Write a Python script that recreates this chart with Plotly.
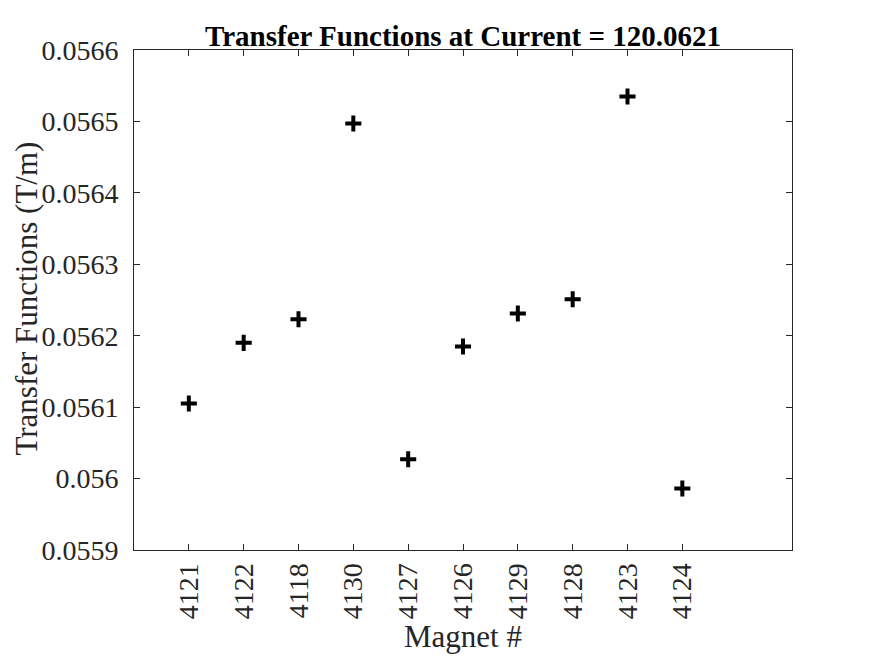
import plotly.graph_objects as go

magnets = ["4121", "4122", "4118", "4130", "4127", "4126", "4129", "4128", "4123", "4124"]
positions = [1, 2, 3, 4, 5, 6, 7, 8, 9, 10]
tf_values = [0.056105, 0.056190, 0.056223, 0.056497, 0.056027, 0.056185, 0.056231, 0.056251, 0.056535, 0.055986]
y_ticks = [0.0559, 0.056, 0.0561, 0.0562, 0.0563, 0.0564, 0.0565, 0.0566]
y_tick_text = ["0.0559", "0.056", "0.0561", "0.0562", "0.0563", "0.0564", "0.0565", "0.0566"]

font_family = "Liberation Serif, Times New Roman, serif"
txt = "#262626"

fig = go.Figure()
fig.add_trace(go.Scatter(
    x=positions, y=tf_values, mode="markers",
    marker=dict(symbol="cross-thin", size=11.5, color="black",
                line=dict(color="black", width=4)),
    showlegend=False,
))

fig.update_layout(
    width=875, height=656,
    paper_bgcolor="white", plot_bgcolor="white",
    margin=dict(l=126, r=91, t=42, b=114),
    title=dict(text="<b>Transfer Functions at Current = 120.0621</b>",
               x=455 / 875, xanchor="center", y=1 - 28 / 656, yanchor="middle",
               font=dict(family=font_family, size=29, color="black")),
    font=dict(family=font_family, color=txt),
    annotations=[
        dict(text="Transfer Functions (T/m)", xref="paper", yref="paper",
             x=-(126 - 18) / 658.5, y=0.503, textangle=-90,
             xanchor="center", yanchor="middle", showarrow=False, borderpad=0,
             font=dict(family=font_family, size=31, color=txt)),
        dict(text="Magnet #", xref="paper", yref="paper", x=0.5, y=-0.172,
             xanchor="center", yanchor="middle", showarrow=False,
             font=dict(family=font_family, size=31, color=txt)),
    ],
)

fig.update_xaxes(
    range=[0, 12], tickmode="array", tickvals=positions, ticktext=magnets,
    tickangle=-90, ticks="inside", ticklen=6, tickcolor=txt,
    showline=True, linecolor=txt, linewidth=1, mirror="allticks",
    showgrid=False, zeroline=False, ticklabelstandoff=1, automargin=False,
    tickfont=dict(family=font_family, size=28, color=txt),
)
fig.update_yaxes(
    range=[0.0559, 0.0566], tickmode="array", tickvals=y_ticks, ticktext=y_tick_text,
    ticks="inside", ticklen=6, tickcolor=txt,
    showline=True, linecolor=txt, linewidth=1, mirror="allticks",
    showgrid=False, zeroline=False, ticklabelstandoff=9, automargin=False,
    tickfont=dict(family=font_family, size=28, color=txt),
)

fig.write_html("out.html")
